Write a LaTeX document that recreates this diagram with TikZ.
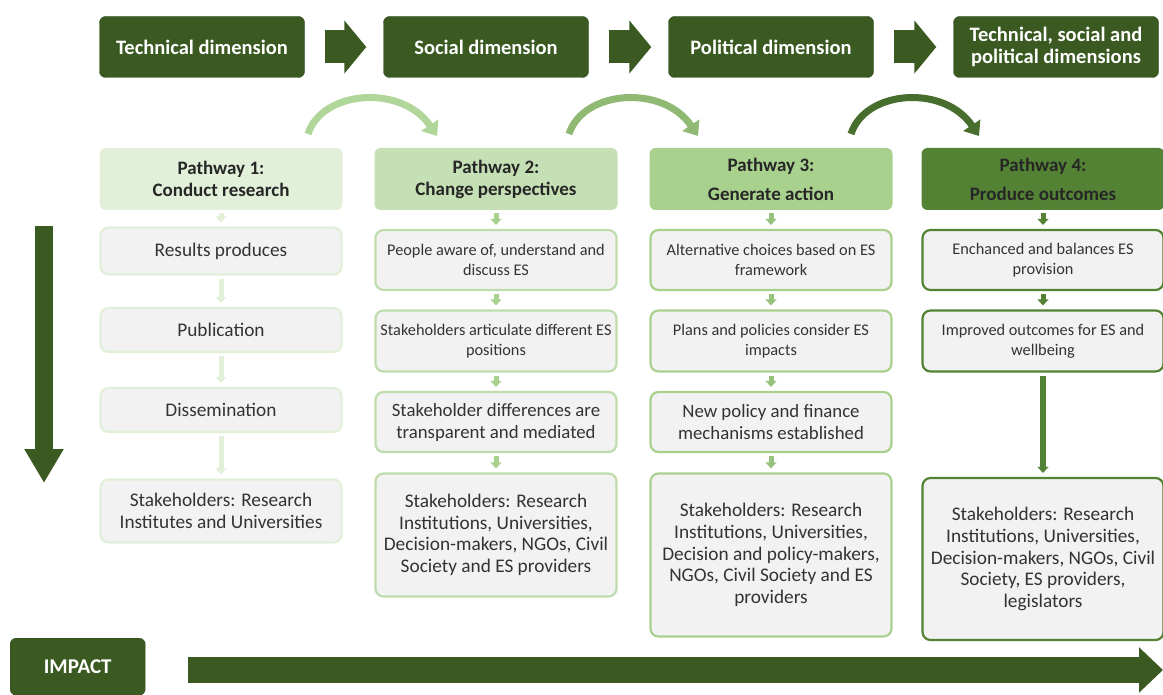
\documentclass[tikz,border=0pt]{standalone}
\usepackage{fontspec}
\setmainfont{Carlito}
\usetikzlibrary{arrows.meta,positioning}

\definecolor{dkgreen}{HTML}{3A5A22}
\definecolor{pone}{HTML}{E2F0D9}
\definecolor{ptwo}{HTML}{C5E0B4}
\definecolor{pthree}{HTML}{A9D18E}
\definecolor{pfour}{HTML}{548235}
\definecolor{boxgray}{HTML}{F2F2F2}
\definecolor{txt}{HTML}{333333}

\tikzset{
  dimbox/.style={draw=dkgreen!80!black, fill=dkgreen, rounded corners=6pt, text=white,
    font=\bfseries\fontsize{20.5}{22}\selectfont, align=center, minimum width=205pt, minimum height=61pt},
  pathhead/.style={rounded corners=6pt, text=black!85, font=\bfseries\fontsize{19}{22}\selectfont,
    align=center, minimum width=243pt, minimum height=62pt},
  stepbox/.style={fill=boxgray, rounded corners=8pt, align=center, minimum width=241pt,
    line width=2.2pt, text=txt, font=\fontsize{16.3}{20}\selectfont},
  bigtext/.style={font=\fontsize{18.8}{22}\selectfont},
  stakes/.style={font=\fontsize{19.3}{21.7}\selectfont},
  flow/.style={line width=5pt, -{Triangle[length=6pt,width=11pt]}, shorten <=3pt, shorten >=4pt},
  dimarrow/.style={line width=33pt, dkgreen, -{Triangle[length=22pt,width=52pt]}},
  arcarrow/.style={line width=7pt, -{Triangle[length=13pt,width=20pt]}}
}

\begin{document}
\begin{tikzpicture}[x=1pt,y=-1pt]
\useasboundingbox (0,0) rectangle (1163,695);

% dimensions
\node[dimbox] (tech) at (202,47) {Technical dimension};
\node[dimbox] (soc) at (486,47) {Social dimension};
\node[dimbox] (pol) at (771,47) {Political dimension};
\node[dimbox] (allDim) at (1056,47) {Technical, social and\\political dimensions};
\draw[dimarrow, shorten <=20pt, shorten >=17pt] (tech) -- (soc);
\draw[dimarrow, shorten <=20pt, shorten >=17pt] (soc) -- (pol);
\draw[dimarrow, shorten <=20pt, shorten >=17pt] (pol) -- (allDim);

% pathways
\node[pathhead, fill=pone] (pa) at (221,179) {Pathway 1:\\Conduct research};
\node[pathhead, fill=ptwo] (pb) at (496,179) {Pathway 2:\\Change perspectives};
\node[pathhead, fill=pthree] (pc) at (771,179) {Pathway 3:\\[7pt]Generate action};
\node[pathhead, fill=pfour] (pd) at (1043,179) {Pathway 4:\\[7pt]Produce outcomes};

% arcs between pathways
\coordinate (arcAs) at (308,134);
\coordinate (arcAe) at (437,136);
\coordinate (arcBs) at (569,134);
\coordinate (arcBe) at (698,136);
\coordinate (arcCs) at (851,134);
\coordinate (arcCe) at (979,136);
\draw[arcarrow, pthree!85!pone] (arcAs) .. controls (322,90) and (402,84) .. (arcAe);
\draw[arcarrow, pthree!70!pfour] (arcBs) .. controls (583,90) and (663,84) .. (arcBe);
\draw[arcarrow, pfour!85!black] (arcCs) .. controls (865,90) and (944,84) .. (arcCe);

% pathway 1
\node[stepbox, draw=pone, minimum height=47pt, stakes] (a1) at (221,251) {Results produces};
\node[stepbox, draw=pone, minimum height=44pt, stakes] (a2) at (221,330) {Publication};
\node[stepbox, draw=pone, minimum height=44pt, stakes] (a3) at (221,410) {Dissemination};
\node[stepbox, draw=pone, minimum height=63pt, stakes] (a4) at (221,511) {Stakeholders: Research\\Institutes and Universities};
\draw[flow, pone] (pa) -- (a1);
\draw[flow, pone] (a1) -- (a2);
\draw[flow, pone] (a2) -- (a3);
\draw[flow, pone] (a3) -- (a4);

% pathway 2
\node[stepbox, draw=ptwo!80!pthree, minimum height=60pt] (b1) at (496,260) {People aware of, understand and\\discuss ES};
\node[stepbox, draw=ptwo!80!pthree, minimum height=61pt] (b2) at (496,341) {Stakeholders articulate different ES\\positions};
\node[stepbox, draw=ptwo!80!pthree, minimum height=60pt, bigtext] (b3) at (496,422) {Stakeholder differences are\\transparent and mediated};
\node[stepbox, draw=ptwo!80!pthree, minimum height=123pt, stakes] (b4) at (496,535) {Stakeholders: Research\\Institutions, Universities,\\Decision-makers, NGOs, Civil\\Society and ES providers};
\draw[flow, pthree] (pb) -- (b1);
\draw[flow, pthree] (b1) -- (b2);
\draw[flow, pthree] (b2) -- (b3);
\draw[flow, pthree] (b3) -- (b4);

% pathway 3
\node[stepbox, draw=pthree, minimum height=60pt] (c1) at (771,260) {Alternative choices based on ES\\framework};
\node[stepbox, draw=pthree, minimum height=61pt] (c2) at (771,341) {Plans and policies consider ES\\impacts};
\node[stepbox, draw=pthree, minimum height=60pt, bigtext] (c3) at (771,422) {New policy and finance\\mechanisms established};
\node[stepbox, draw=pthree, minimum height=163pt, stakes] (c4) at (771,555) {Stakeholders: Research\\Institutions, Universities,\\Decision and policy-makers,\\NGOs, Civil Society and ES\\providers};
\draw[flow, pthree!80!pfour] (pc) -- (c1);
\draw[flow, pthree!80!pfour] (c1) -- (c2);
\draw[flow, pthree!80!pfour] (c2) -- (c3);
\draw[flow, pthree!80!pfour] (c3) -- (c4);

% pathway 4
\node[stepbox, draw=pfour, minimum height=60pt] (d1) at (1043,260) {Enchanced and balances ES\\provision};
\node[stepbox, draw=pfour, minimum height=61pt] (d2) at (1043,341) {Improved outcomes for ES and\\wellbeing};
\node[stepbox, draw=pfour, minimum height=162pt, stakes] (d4) at (1043,559) {Stakeholders: Research\\Institutions, Universities,\\Decision-makers, NGOs, Civil\\Society, ES providers,\\legislators};
\draw[flow, pfour] (pd) -- (d1);
\draw[flow, pfour] (d1) -- (d2);
\draw[flow, pfour, line width=6pt] (d2) -- (d4);

% impact
\node[draw=dkgreen!80!black, fill=dkgreen, rounded corners=6pt, text=white, font=\bfseries\fontsize{21}{22}\selectfont,
  minimum width=135pt, minimum height=57pt, anchor=north west] (impact) at (10,638) {IMPACT};
\coordinate (downS) at (44,226);
\coordinate (downE) at (44,483);
\coordinate (rightS) at (188,670);
\coordinate (rightE) at (1163,670);
\draw[line width=18pt, dkgreen, -{Triangle[length=34pt,width=37pt]}] (downS) -- (downE);
\draw[line width=26pt, dkgreen, -{Triangle[length=24pt,width=44pt]}] (rightS) -- (rightE);
\end{tikzpicture}
\end{document}
